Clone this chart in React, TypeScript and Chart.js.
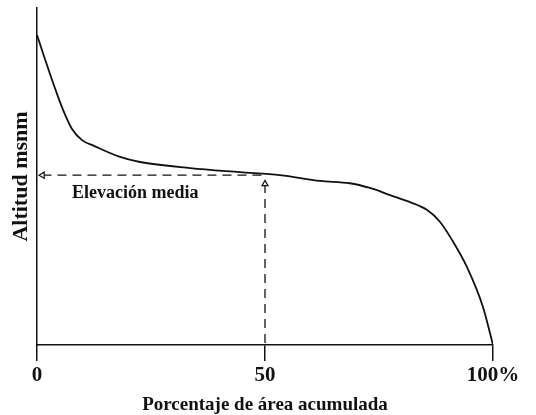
import React, { useEffect, useRef } from "react";
import { Chart, registerables } from "chart.js";

Chart.register(...registerables);

// Hypsometric curve: cumulative area (%) vs altitude (relative units)
const areaPct = [0, 1.32, 2.85, 4.39, 5.92, 7.68, 9.87, 12.5, 18.2, 22.6, 33.6, 44.5, 53.3, 62.1, 68.6, 73.0, 77.4, 81.8, 85.5, 88.4, 91.0, 94.3, 97.8, 100];
const altitude = [92.0, 86.6, 80.4, 74.5, 69.1, 64.1, 60.8, 59.1, 55.8, 54.3, 52.5, 51.3, 50.4, 48.7, 48.0, 46.6, 44.5, 42.4, 40.1, 36.5, 31.2, 23.1, 11.3, 0];

const meanArea = 50;
const meanAltitude = 50.4;
const meanArrowArea = 1.2;
const meanArrowAlt = 47.8;

const xTicks = [0, 50, 100];
const xTickLabels = ["0", "50", "100%"];

const xTitle = "Porcentaje de área acumulada";
const yTitle = "Altitud msnm";
const annotationText = "Elevación media";
const annotationPos = { x: 7.7, y: 45.1 };

const FONT = '"Liberation Serif", "Times New Roman", serif';
const INK = "#111";

export default function App() {
  const ref = useRef<HTMLCanvasElement>(null);

  useEffect(() => {
    if (!ref.current) return;
    const labelPlugin = {
      id: "meanLabel",
      afterDatasetsDraw(chart: any) {
        const { ctx, scales } = chart;
        const x = scales.x.getPixelForValue(annotationPos.x);
        const y = scales.y.getPixelForValue(annotationPos.y);
        ctx.save();
        ctx.font = `bold 18px ${FONT}`;
        ctx.fillStyle = INK;
        ctx.textAlign = "left";
        ctx.textBaseline = "middle";
        ctx.fillText(annotationText, x, y);
        ctx.restore();
      },
    };

    const chart = new Chart(ref.current, {
      type: "line",
      data: {
        datasets: [
          {
            label: "curve",
            data: areaPct.map((a, i) => ({ x: a, y: altitude[i] })),
            borderColor: INK,
            borderWidth: 1.8,
            pointRadius: 0,
            cubicInterpolationMode: "monotone",
            fill: false,
          },
          {
            label: "meanH",
            data: [
              { x: meanArrowArea, y: meanAltitude },
              { x: meanArea, y: meanAltitude },
            ],
            borderColor: INK,
            borderWidth: 1.3,
            borderDash: [9, 6],
            pointRadius: [3.5, 0],
            pointStyle: "triangle",
            rotation: -90,
            pointBackgroundColor: "#fff",
            pointBorderColor: INK,
            pointBorderWidth: 1.2,
          },
          {
            label: "meanV",
            data: [
              { x: meanArea, y: meanArrowAlt },
              { x: meanArea, y: 0 },
            ],
            borderColor: INK,
            borderWidth: 1.3,
            borderDash: [9, 6],
            pointRadius: [3.5, 0],
            pointStyle: "triangle",
            rotation: 0,
            pointBackgroundColor: "#fff",
            pointBorderColor: INK,
            pointBorderWidth: 1.2,
          },
        ],
      },
      options: {
        animation: false,
        responsive: false,
        maintainAspectRatio: false,
        layout: { padding: { top: 8, right: 43, left: 0, bottom: 0 } },
        plugins: {
          legend: { display: false },
          tooltip: { enabled: false },
        },
        scales: {
          x: {
            type: "linear",
            min: 0,
            max: 100,
            afterFit: (s: any) => {
              s.height = 70;
            },
            afterBuildTicks: (s: any) => {
              s.ticks = xTicks.map((v) => ({ value: v }));
            },
            ticks: {
              callback: (v: any) => {
                const i = xTicks.indexOf(Number(v));
                return i >= 0 ? xTickLabels[i] : "";
              },
              font: { family: FONT, size: 21, weight: "bold" },
              color: INK,
              padding: 2,
              maxRotation: 0,
              autoSkip: false,
            },
            grid: {
              display: true,
              drawOnChartArea: false,
              drawTicks: true,
              tickLength: 16,
              color: INK,
              lineWidth: 1.5,
            },
            border: { display: true, color: INK, width: 1.5 },
            title: {
              display: true,
              text: xTitle,
              font: { family: FONT, size: 19, weight: "bold", lineHeight: 1 },
              color: INK,
              padding: { top: 0, bottom: 0 },
            },
          },
          y: {
            type: "linear",
            min: 0,
            max: 100,
            afterFit: (s: any) => {
              s.width = 37;
            },
            ticks: { display: false },
            grid: { display: false },
            border: { display: true, color: INK, width: 1.5 },
            title: {
              display: true,
              text: yTitle,
              font: { family: FONT, size: 22, weight: "bold", lineHeight: 1 },
              color: INK,
              padding: { top: 10, bottom: 0 },
            },
          },
        },
      },
      plugins: [labelPlugin],
    } as any);
    return () => chart.destroy();
  }, []);

  return (
    <div style={{ position: "absolute", left: 0, top: 0, width: 536, height: 415, background: "#fff" }}>
      <canvas ref={ref} width={536} height={415} style={{ width: 536, height: 415 }} />
    </div>
  );
}
